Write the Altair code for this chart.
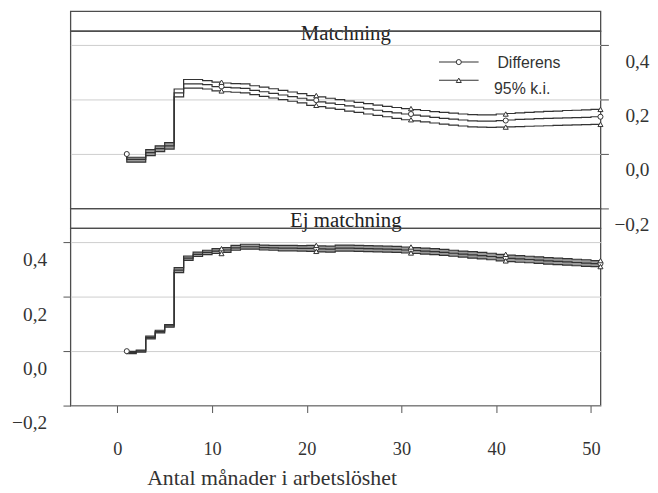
import altair as alt
import pandas as pd

# ---------------- data ----------------
panels = ["Matchning", "Ej matchning"]
months = list(range(1, 52))
marker_months = [1, 11, 21, 31, 41, 51]
legend_labels = ["Differens", "95% k.i."]
x_ticks = [0, 10, 20, 30, 40, 50]
y_ticks = [-0.2, 0.0, 0.2, 0.4]
x_title = "Antal månader i arbetslöshet"

top_center = [0.000, -0.020, -0.020, 0.005, 0.020, 0.030, 0.225, 0.258, 0.258, 0.255,
              0.248, 0.245, 0.243, 0.241, 0.234, 0.229, 0.223, 0.217, 0.211, 0.205,
              0.198, 0.192, 0.187, 0.182, 0.177, 0.172, 0.166, 0.161, 0.156, 0.151,
              0.147, 0.143, 0.139, 0.135, 0.131, 0.128, 0.125, 0.122, 0.121, 0.121,
              0.123, 0.125, 0.127, 0.128, 0.130, 0.131, 0.132, 0.133, 0.134, 0.135, 0.137]
top_upper = [0.000, -0.012, -0.012, 0.016, 0.030, 0.042, 0.239, 0.274, 0.274, 0.270,
             0.264, 0.261, 0.259, 0.258, 0.251, 0.246, 0.240, 0.234, 0.228, 0.222,
             0.215, 0.210, 0.205, 0.200, 0.195, 0.190, 0.185, 0.180, 0.175, 0.171,
             0.167, 0.163, 0.160, 0.156, 0.153, 0.150, 0.147, 0.145, 0.144, 0.144,
             0.147, 0.149, 0.151, 0.153, 0.155, 0.157, 0.158, 0.160, 0.161, 0.162, 0.164]
top_lower = [0.000, -0.030, -0.030, -0.006, 0.009, 0.018, 0.210, 0.242, 0.242, 0.239,
             0.232, 0.229, 0.227, 0.225, 0.218, 0.212, 0.206, 0.200, 0.194, 0.188,
             0.179, 0.174, 0.169, 0.164, 0.158, 0.153, 0.147, 0.142, 0.137, 0.131,
             0.126, 0.122, 0.118, 0.114, 0.110, 0.106, 0.103, 0.100, 0.099, 0.098,
             0.099, 0.100, 0.101, 0.102, 0.103, 0.104, 0.105, 0.106, 0.107, 0.108, 0.109]

bot_center = [0.000, -0.005, 0.000, 0.050, 0.072, 0.093, 0.298, 0.342, 0.356, 0.363,
              0.368, 0.372, 0.380, 0.384, 0.384, 0.381, 0.380, 0.379, 0.379, 0.378,
              0.378, 0.376, 0.375, 0.379, 0.379, 0.378, 0.377, 0.376, 0.375, 0.374,
              0.372, 0.370, 0.368, 0.366, 0.363, 0.360, 0.357, 0.354, 0.351, 0.348,
              0.344, 0.341, 0.339, 0.337, 0.335, 0.332, 0.330, 0.328, 0.326, 0.324, 0.322]
bot_upper = [0.000, -0.001, 0.004, 0.055, 0.077, 0.098, 0.307, 0.350, 0.364, 0.371,
             0.377, 0.381, 0.389, 0.393, 0.393, 0.390, 0.389, 0.389, 0.389, 0.388,
             0.389, 0.387, 0.386, 0.390, 0.390, 0.389, 0.388, 0.387, 0.386, 0.385,
             0.383, 0.381, 0.379, 0.377, 0.374, 0.371, 0.368, 0.366, 0.363, 0.360,
             0.356, 0.353, 0.351, 0.349, 0.347, 0.344, 0.342, 0.340, 0.338, 0.336, 0.333]
bot_lower = [0.000, -0.009, -0.004, 0.045, 0.067, 0.088, 0.289, 0.334, 0.348, 0.355,
             0.359, 0.363, 0.371, 0.375, 0.375, 0.372, 0.371, 0.369, 0.369, 0.368,
             0.367, 0.365, 0.364, 0.368, 0.368, 0.367, 0.366, 0.365, 0.364, 0.363,
             0.361, 0.359, 0.357, 0.355, 0.352, 0.349, 0.346, 0.342, 0.339, 0.336,
             0.332, 0.329, 0.327, 0.325, 0.323, 0.320, 0.318, 0.316, 0.314, 0.312, 0.311]

# ---------------- tables ----------------
def long_table(center, upper, lower):
    rows = []
    for m, c, u, l in zip(months, center, upper, lower):
        rows.append({"month": m, "value": c, "series": "Differens"})
        rows.append({"month": m, "value": u, "series": "upper"})
        rows.append({"month": m, "value": l, "series": "lower"})
    return pd.DataFrame(rows)

def wide_table(upper, lower):
    return pd.DataFrame({"month": months, "upper": upper, "lower": lower})

top_df = long_table(top_center, top_upper, top_lower)
bot_df = long_table(bot_center, bot_upper, bot_lower)
top_band = wide_table(top_upper, top_lower)
bot_band = wide_table(bot_upper, bot_lower)

# ---------------- styling ----------------
W = 535
STRIP_H = 20
PLOT_H = 179
SERIF = "Liberation Serif"
SANS = "Liberation Sans"
INK = "#333333"
GRID = "#cdcdcd"
label_expr = "replace(format(datum.value, '.1f'), '.', ',')"

xscale = alt.Scale(domain=[-4.95, 51.0], nice=False, zero=False)
yscale = alt.Scale(domain=[-0.2, 0.452], nice=False, zero=False)

right_axis = alt.Axis(orient="right", values=y_ticks, grid=True, gridColor=GRID,
                      domain=False, tickSize=8, labelAlign="right", labelPadding=41,
                      labelBaseline="alphabetic", labelOffset=22, labelExpr=label_expr,
                      labelFont=SERIF, labelFontSize=19.5, title=None)
left_axis = alt.Axis(orient="left", values=y_ticks, grid=True, gridColor=GRID,
                     domain=False, tickSize=7.5, labelPadding=16.5,
                     labelBaseline="alphabetic", labelOffset=23.5, labelExpr=label_expr,
                     labelFont=SERIF, labelFontSize=19.5, title=None)
bottom_axis = alt.Axis(orient="bottom", values=x_ticks, grid=False, domain=False,
                       tickSize=7, labelPadding=42, labelBaseline="alphabetic",
                       labelFont=SERIF, labelFontSize=18.5, format="d",
                       title=x_title, titleFont=SERIF, titleFontSize=22,
                       titleFontWeight="normal", titleX=203, titleY=80,
                       titleAlign="center", titleBaseline="alphabetic")


def panel(df, y_axis, x_axis, band, band_until):
    x = alt.X("month:Q", scale=xscale, axis=x_axis)
    layers = [
        alt.Chart(band).transform_filter(alt.datum.month <= band_until)
        .mark_area(interpolate="step-before", color="#9a9a9a")
        .encode(x=x, y=alt.Y("lower:Q", scale=yscale, axis=y_axis), y2="upper:Q"),
        alt.Chart(df).mark_line(interpolate="step-before", color=INK, strokeWidth=1.2)
        .encode(x=x, y=alt.Y("value:Q", scale=yscale, axis=y_axis), detail="series:N"),
        alt.Chart(df).transform_filter(alt.datum.series == "Differens")
        .transform_filter(alt.FieldOneOfPredicate(field="month", oneOf=marker_months))
        .mark_point(shape="circle", filled=True, fill="white", stroke=INK,
                    strokeWidth=1, size=26, opacity=1)
        .encode(x=x, y=alt.Y("value:Q", scale=yscale)),
        alt.Chart(df).transform_filter(alt.datum.series != "Differens")
        .transform_filter(alt.FieldOneOfPredicate(field="month", oneOf=marker_months[1:]))
        .mark_point(shape="triangle-up", filled=True, fill="white", stroke=INK,
                    strokeWidth=1, size=26, opacity=1)
        .encode(x=x, y=alt.Y("value:Q", scale=yscale)),
    ]
    return layers


def strip(name, baseline_y):
    return (
        alt.Chart(pd.DataFrame({"panel": [name]}))
        .mark_text(font=SERIF, fontSize=21, baseline="alphabetic", align="center", color="#222")
        .encode(x=alt.value(278), y=alt.value(baseline_y), text="panel:N")
        .properties(width=W, height=STRIP_H)
    )


# legend (drawn inside the top panel)
leg_df = pd.DataFrame({"label": legend_labels})
legend_layers = [
    alt.Chart(leg_df).transform_filter(alt.datum.label == legend_labels[0])
    .mark_rule(color=INK, strokeWidth=1.1)
    .encode(x=alt.value(372), x2=alt.value(412), y=alt.value(31.3)),
    alt.Chart(leg_df).transform_filter(alt.datum.label == legend_labels[0])
    .mark_point(shape="circle", filled=True, fill="white", stroke=INK, strokeWidth=1, size=26, opacity=1)
    .encode(x=alt.value(392), y=alt.value(31.3)),
    alt.Chart(leg_df).transform_filter(alt.datum.label == legend_labels[0])
    .mark_text(font=SANS, fontSize=16, align="left", baseline="alphabetic", color=INK)
    .encode(x=alt.value(431), y=alt.value(37), text="label:N"),
    alt.Chart(leg_df).transform_filter(alt.datum.label == legend_labels[1])
    .mark_rule(color=INK, strokeWidth=1.1)
    .encode(x=alt.value(372), x2=alt.value(412), y=alt.value(49.7)),
    alt.Chart(leg_df).transform_filter(alt.datum.label == legend_labels[1])
    .mark_point(shape="triangle-up", filled=True, fill="white", stroke=INK, strokeWidth=1, size=26, opacity=1)
    .encode(x=alt.value(392), y=alt.value(49.7)),
    alt.Chart(leg_df).transform_filter(alt.datum.label == legend_labels[1])
    .mark_text(font=SANS, fontSize=16, align="left", baseline="alphabetic", color=INK)
    .encode(x=alt.value(427.6), y=alt.value(63.7), text="label:N"),
]

top_panel = alt.layer(*panel(top_df, right_axis, None, top_band, 6), *legend_layers).properties(width=W, height=PLOT_H)
bot_panel = alt.layer(*panel(bot_df, left_axis, bottom_axis, bot_band, 51)).properties(width=W, height=PLOT_H)

chart = (
    alt.vconcat(strip(panels[0], 29.5), top_panel, strip(panels[1], 19), bot_panel,
                spacing=0, bounds="flush")
    .properties(padding={"left": 2, "top": 0, "right": 0, "bottom": 5})
    .configure_view(stroke="#4d4d4d", strokeWidth=1.3)
    .configure_axis(labelColor=INK, tickColor="#555555", titleColor=INK, tickWidth=1)
)

chart.save("out.html", embed_options={"renderer": "svg", "actions": False})
